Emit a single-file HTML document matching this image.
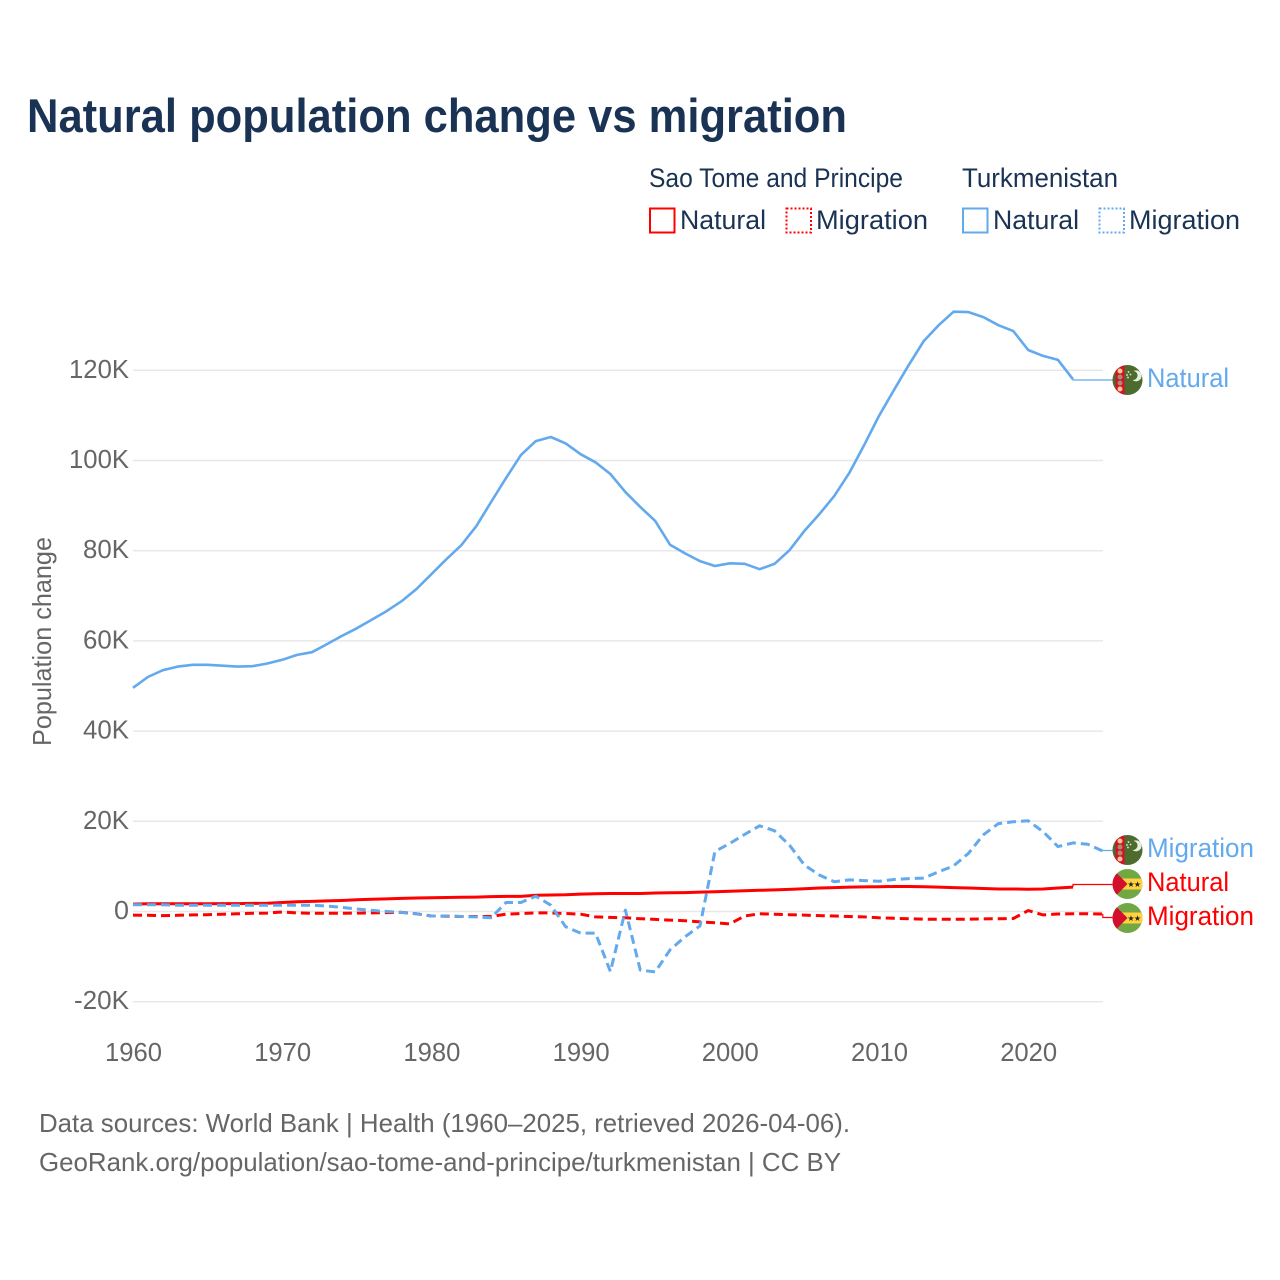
<!DOCTYPE html>
<html lang="en">
<head>
<meta charset="utf-8">
<title>Natural population change vs migration</title>
<style>
html,body{margin:0;padding:0;background:#fff;width:1280px;height:1280px;overflow:hidden}
svg{display:block;font-family:"Liberation Sans",sans-serif}
</style>
</head>
<body>
<svg id="chart" width="1280" height="1280" viewBox="0 0 1280 1280">
  <defs>
    <clipPath id="flag-clip-a"><circle cx="0" cy="0" r="15"/></clipPath>
    <g id="flag-tm">
      <g clip-path="url(#flag-clip-a)">
        <rect x="-15" y="-15" width="30" height="30" fill="#4c6b2d"/>
        <rect x="-12" y="-15" width="9" height="30" fill="#d2122e"/>
        <circle cx="-7.500" cy="-9" r="2.500" fill="#f5c98a"/>
        <circle cx="-7.500" cy="-3" r="2.500" fill="#a98c6a"/>
        <circle cx="-7.500" cy="3" r="2.500" fill="#a98c6a"/>
        <circle cx="-7.500" cy="9" r="2.500" fill="#f5c98a"/>
        <path d="M6 -9 a5.500 5.500 0 1 1 -1 9 a4.500 4.500 0 0 0 1 -9z" fill="#e8efe0"/>
        <circle cx="1" cy="-8" r="0.900" fill="#e8efe0"/>
        <circle cx="-0.500" cy="-5" r="0.900" fill="#e8efe0"/>
        <circle cx="3" cy="-5.500" r="0.900" fill="#e8efe0"/>
        <circle cx="0.500" cy="-2.500" r="0.900" fill="#e8efe0"/>
      </g>
    </g>
    <g id="flag-st">
      <g clip-path="url(#flag-clip-a)">
        <rect x="-15" y="-15" width="30" height="30" fill="#71a843"/>
        <rect x="-15" y="-5.500" width="30" height="11" fill="#ffd23f"/>
        <path d="M-15 -15 L0 0 L-15 15Z" fill="#d2102e"/>
        <text x="3.500" y="3" font-size="8" fill="#222" text-anchor="middle">★</text>
        <text x="10" y="3" font-size="8" fill="#222" text-anchor="middle">★</text>
      </g>
    </g>
  </defs>

  <text x="27" y="132" font-size="47" font-weight="700" fill="#1a3354" textLength="820" lengthAdjust="spacingAndGlyphs">Natural population change vs migration</text>

  <g font-size="27" fill="#1a3354">
    <text x="649" y="187" textLength="254" lengthAdjust="spacingAndGlyphs">Sao Tome and Principe</text>
    <text x="962" y="187" textLength="156" lengthAdjust="spacingAndGlyphs">Turkmenistan</text>
    <g>
      <rect x="650" y="208.500" width="24.500" height="24" fill="none" stroke="#ff0000" stroke-width="2"/>
      <text x="680" y="229" textLength="86" lengthAdjust="spacingAndGlyphs">Natural</text>
    </g>
    <g>
      <rect x="786.500" y="208.500" width="24.500" height="24" fill="none" stroke="#ff0000" stroke-width="2" stroke-dasharray="2 2"/>
      <text x="816" y="229" textLength="112" lengthAdjust="spacingAndGlyphs">Migration</text>
    </g>
    <g>
      <rect x="963" y="208.500" width="24.500" height="24" fill="none" stroke="#62a9ee" stroke-width="2"/>
      <text x="993" y="229" textLength="86" lengthAdjust="spacingAndGlyphs">Natural</text>
    </g>
    <g>
      <rect x="1099.500" y="208.500" width="24.500" height="24" fill="none" stroke="#62a9ee" stroke-width="2" stroke-dasharray="2 2"/>
      <text x="1129" y="229" textLength="111" lengthAdjust="spacingAndGlyphs">Migration</text>
    </g>
  </g>

  <text transform="translate(51,746) rotate(-90)" font-size="26" fill="#666" textLength="209" lengthAdjust="spacingAndGlyphs">Population change</text>

  <g id="grid"></g>
  <g id="yticks" font-size="26" fill="#666" text-anchor="end"></g>
  <g id="xticks" font-size="26" fill="#666" text-anchor="middle"></g>
  <g id="series"></g>

  <g font-size="27">
    <g>
      <use href="#flag-tm" x="1127.500" y="380"/>
      <text x="1147" y="387" fill="#62a9ee" textLength="82" lengthAdjust="spacingAndGlyphs">Natural</text>
    </g>
    <g>
      <use href="#flag-tm" x="1127.500" y="850"/>
      <text x="1147" y="857" fill="#62a9ee" textLength="107" lengthAdjust="spacingAndGlyphs">Migration</text>
    </g>
    <g>
      <use href="#flag-st" x="1127.500" y="884"/>
      <text x="1147" y="891" fill="#ff0000" textLength="82" lengthAdjust="spacingAndGlyphs">Natural</text>
    </g>
    <g>
      <use href="#flag-st" x="1127.500" y="918"/>
      <text x="1147" y="925" fill="#ff0000" textLength="107" lengthAdjust="spacingAndGlyphs">Migration</text>
    </g>
  </g>

  <g font-size="26" fill="#666">
    <text x="39" y="1132" textLength="811" lengthAdjust="spacingAndGlyphs">Data sources: World Bank | Health (1960–2025, retrieved 2026-04-06).</text>
    <text x="39" y="1171" textLength="802" lengthAdjust="spacingAndGlyphs">GeoRank.org/population/sao-tome-and-principe/turkmenistan | CC BY</text>
  </g>
</svg>

<script>
const startYear = 1960;
const yTickValues = [-20, 0, 20, 40, 60, 80, 100, 120];
const yTickLabels = ["-20K", "0", "20K", "40K", "60K", "80K", "100K", "120K"];
const xTickYears = [1960, 1970, 1980, 1990, 2000, 2010, 2020];

// Thousands of people per year, first value = 1960
const turkmenistanNatural = [49.6,52,53.5,54.3,54.7,54.7,54.5,54.3,54.4,55,55.8,56.9,57.5,59.3,61.1,62.8,64.7,66.6,68.8,71.5,74.8,78.1,81.2,85.4,90.8,96.1,101.2,104.3,105.2,103.8,101.4,99.6,97,93,89.7,86.6,81.3,79.4,77.7,76.6,77.2,77.1,75.9,77.1,80.1,84.4,88.1,92.1,97.2,103.4,109.9,115.6,121.2,126.5,130,133,132.9,131.8,130,128.7,124.5,123.2,122.3,118];
const turkmenistanMigration = [1.5,1.5,1.5,1.4,1.4,1.4,1.4,1.4,1.4,1.4,1.4,1.4,1.4,1.2,0.9,0.55,0.25,0,-0.2,-0.5,-1,-1,-1.1,-1.2,-1.4,2,2,3.4,1.4,-3.4,-4.8,-4.8,-13.3,0.3,-13,-13.4,-8.5,-5.6,-3.2,13.3,15.1,17.1,19,17.9,14.7,10.3,8.1,6.6,7,6.85,6.7,7.1,7.3,7.4,8.8,10.1,12.9,17,19.5,19.9,20.1,17.7,14.4,15.2,14.9,13.4];
const saoTomeNatural = [1.65,1.7,1.7,1.7,1.7,1.7,1.75,1.75,1.8,1.85,2,2.15,2.25,2.35,2.45,2.6,2.7,2.8,2.9,3,3.05,3.1,3.15,3.2,3.3,3.35,3.35,3.6,3.65,3.7,3.85,3.95,4,4,4,4.1,4.15,4.2,4.3,4.4,4.5,4.6,4.7,4.8,4.9,5.05,5.2,5.3,5.4,5.45,5.5,5.55,5.55,5.5,5.4,5.3,5.2,5.1,5,5,4.95,5,5.2,5.4];
const saoTomeMigration = [-0.8,-0.85,-0.9,-0.85,-0.75,-0.7,-0.6,-0.5,-0.4,-0.35,-0.1,-0.3,-0.4,-0.4,-0.4,-0.35,-0.3,-0.25,-0.2,-0.5,-1,-1.05,-1.1,-1.1,-1.1,-0.6,-0.45,-0.3,-0.3,-0.45,-0.6,-1.2,-1.3,-1.4,-1.6,-1.75,-1.9,-2.05,-2.3,-2.5,-2.75,-1,-0.5,-0.6,-0.7,-0.8,-0.9,-1,-1.1,-1.2,-1.4,-1.5,-1.6,-1.7,-1.7,-1.7,-1.7,-1.65,-1.6,-1.55,0.2,-0.75,-0.55,-0.5,-0.5,-0.55];

const NS = "http://www.w3.org/2000/svg";
const xOf = function (year) { return 133 + (year - startYear) * 14.92; };
const yOf = function (k) { return 911.5 - k * 4.51; };
const BLUE = "#62a9ee";
const RED = "#ff0000";

const grid = document.getElementById("grid");
const yticks = document.getElementById("yticks");
yTickValues.forEach(function (v, i) {
  const line = document.createElementNS(NS, "line");
  
  
  line.setAttribute("x1", 133);
  line.setAttribute("x2", 1103);
  line.setAttribute("y1", yOf(v));
  line.setAttribute("y2", yOf(v));
  line.setAttribute("stroke", "#e8e8e8");
  line.setAttribute("stroke-width", "1.5");
  grid.appendChild(line);

  const t = document.createElementNS(NS, "text");
  
  
  t.setAttribute("x", 129);
  t.setAttribute("y", yOf(v) + 7.5);
  t.setAttribute("textLength", yTickLabels[i].length === 1 ? 15 : yTickLabels[i].length === 3 ? 46 : (yTickLabels[i][0] === "-" ? 55 : 60));
  t.setAttribute("lengthAdjust", "spacingAndGlyphs");
  t.textContent = yTickLabels[i];
  yticks.appendChild(t);
});

const xticks = document.getElementById("xticks");
xTickYears.forEach(function (year) {
  const t = document.createElementNS(NS, "text");
  
  
  t.setAttribute("x", xOf(year) + 0.5);
  t.setAttribute("y", 1061);
  t.setAttribute("textLength", 57);
  t.setAttribute("lengthAdjust", "spacingAndGlyphs");
  t.textContent = year;
  xticks.appendChild(t);
});

const seriesGroup = document.getElementById("series");

function drawSeries(values, color, dashed, labelY, width) {
  const pts = values.map(function (v, i) {
    return xOf(startYear + i).toFixed(1) + "," + yOf(v).toFixed(1);
  });
  const path = document.createElementNS(NS, "path");
  
  
  path.setAttribute("d", "M" + pts.join("L"));
  path.setAttribute("fill", "none");
  path.setAttribute("stroke", color);
  path.setAttribute("stroke-width", width);
  path.setAttribute("stroke-linejoin", "round");
  if (dashed) path.setAttribute("stroke-dasharray", "9 5");
  seriesGroup.appendChild(path);

  const endX = xOf(startYear + values.length - 1);
  const endY = yOf(values[values.length - 1]);
  const connector = document.createElementNS(NS, "path");
  
  
  connector.setAttribute("d", "M" + endX + "," + endY + "V" + labelY + "H1113");
  connector.setAttribute("fill", "none");
  connector.setAttribute("stroke", color);
  connector.setAttribute("stroke-width", "1.2");
  seriesGroup.appendChild(connector);
}

drawSeries(saoTomeNatural, RED, false, 884.5, 3);
drawSeries(saoTomeMigration, RED, true, 917.5, 3);
drawSeries(turkmenistanNatural, BLUE, false, 380, 2.6);
drawSeries(turkmenistanMigration, BLUE, true, 850.5, 3);
</script>
</body>
</html>
